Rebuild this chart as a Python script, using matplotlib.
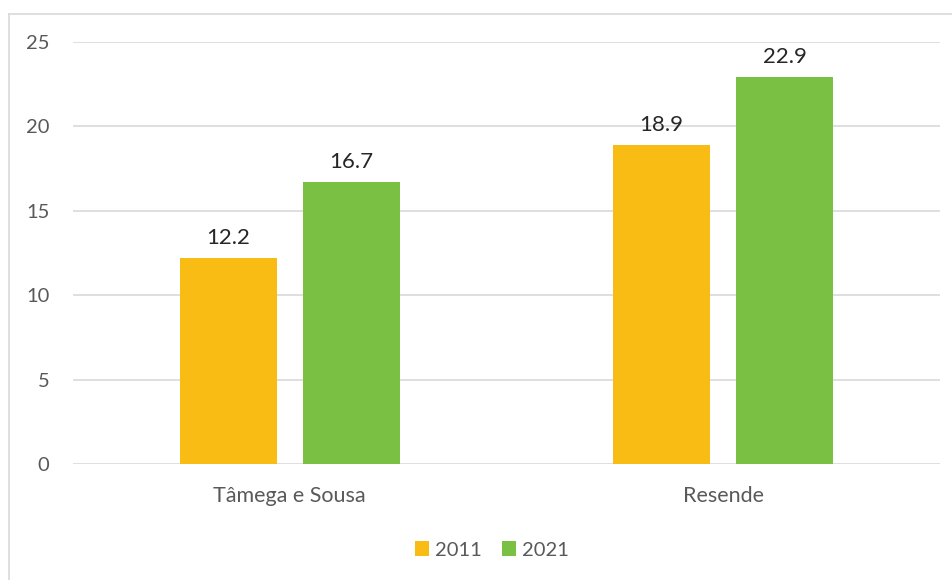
import matplotlib.pyplot as plt
import numpy as np

categories = ["Tâmega e Sousa", "Resende"]
years = ["2011", "2021"]
values_2011 = [12.2, 18.9]
values_2021 = [16.7, 22.9]
colors = ["#F9BC15", "#7AC143"]

plt.rcParams["font.family"] = ["Lato", "DejaVu Sans"]

fig = plt.figure(figsize=(9.53, 5.8), dpi=100)
ax = fig.add_axes([73 / 953, 1 - 464 / 580, 867 / 953, 422 / 580])

# outer chart frame (left and top edges visible)
frame_x = 9.5 / 953
frame_y = 1 - 13.5 / 580
fig.add_artist(plt.Line2D([frame_x, frame_x], [0, frame_y], color="#D9D9D9", lw=1.2))
fig.add_artist(plt.Line2D([frame_x, 1], [frame_y, frame_y], color="#D9D9D9", lw=1.2))

x = np.arange(len(categories))
width = 0.224
offset = 0.142
series = [values_2011, values_2021]
for i, (vals, year) in enumerate(zip(series, years)):
    pos = x + (offset if i else -offset)
    bars = ax.bar(pos, vals, width, color=colors[i], label=year, zorder=3)
    for b, v in zip(bars, vals):
        ax.text(b.get_x() + b.get_width() / 2, v + 0.6, f"{v}", ha="center",
                va="bottom", fontsize=16, color="#262626")

ax.set_xlim(-0.5, 1.5)
ax.set_ylim(0, 25)
ax.set_yticks(range(0, 26, 5))
ax.yaxis.grid(True, color="#D9D9D9", lw=1.2, zorder=0)
for s in ax.spines.values():
    s.set_visible(False)
ax.tick_params(axis="both", length=0, colors="#595959", labelsize=14.5)
ax.tick_params(axis="y", pad=17)
ax.tick_params(axis="x", pad=16, labelsize=15.5)
ax.set_xticks(x)
ax.set_xticklabels(categories)

leg = fig.legend(loc="center", bbox_to_anchor=(492 / 953, 1 - 550 / 580), ncol=2,
                 frameon=False, fontsize=14.5, handlelength=0.7, handleheight=0.7,
                 handletextpad=0.3, columnspacing=1.0)
for t in leg.get_texts():
    t.set_color("#595959")

fig.savefig("out.png", dpi=100)
